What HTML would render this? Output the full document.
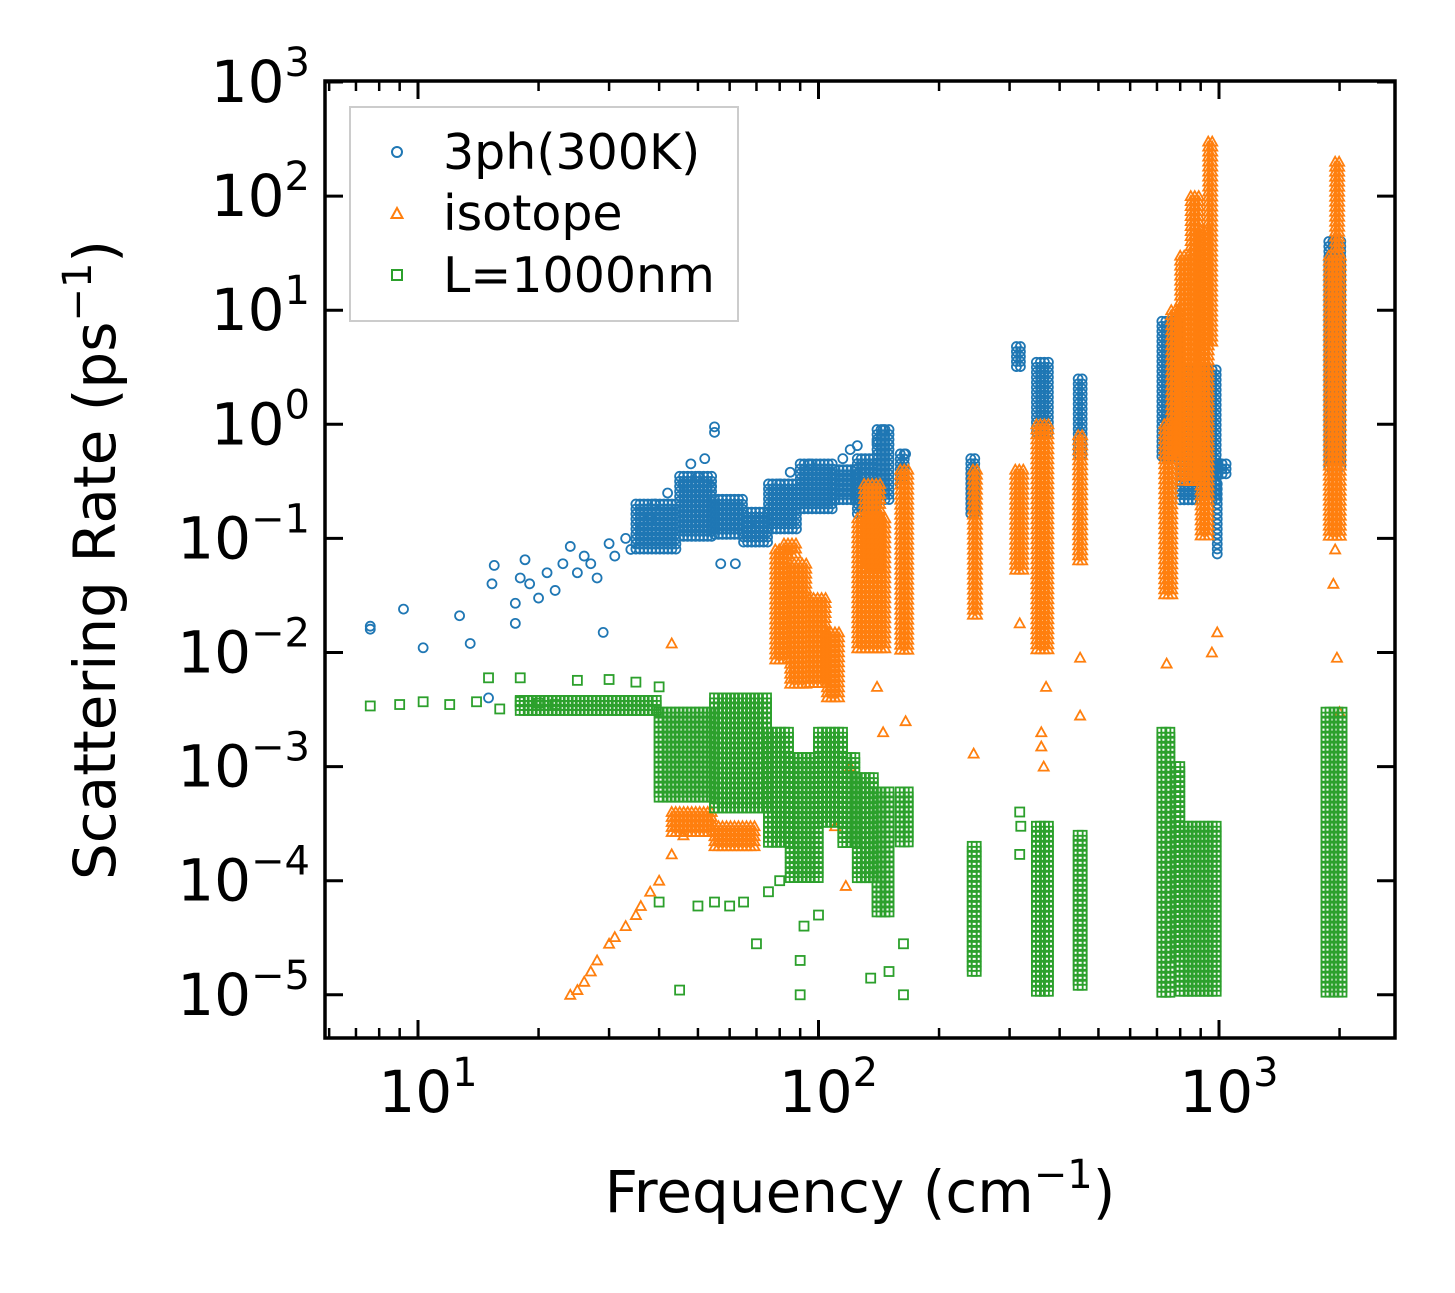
<!DOCTYPE html>
<html><head><meta charset="utf-8"><style>
body{margin:0;background:#fff;}
svg text{font-family:"DejaVu Sans","Liberation Sans",sans-serif;fill:#000;}
</style></head><body>
<svg id="chart" width="1455" height="1288" viewBox="0 0 1455 1288" xmlns="http://www.w3.org/2000/svg">
<rect width="1455" height="1288" fill="#fff"/>
<g id="marks"></g>
<g id="axes"></g>
<g id="legend">
<rect x="350" y="107" width="388" height="214" fill="#fff" fill-opacity="0.8" stroke="#ccc" stroke-width="2"/>
<circle cx="397" cy="152" r="5" fill="none" stroke="#1f77b4" stroke-width="2"/>
<text x="443" y="169" font-size="49">3ph(300K)</text>
<path d="M397,208 L402.5,218 L391.5,218 Z" fill="none" stroke="#ff7f0e" stroke-width="2"/>
<text x="443" y="230" font-size="49">isotope</text>
<rect x="392" y="270" width="10" height="10" fill="none" stroke="#2ca02c" stroke-width="2"/>
<text x="443" y="292" font-size="49">L=1000nm</text>
</g>
<text x="860" y="1212" font-size="58" text-anchor="middle">Frequency (cm<tspan dy="-24" font-size="40">−1</tspan><tspan dy="24">)</tspan></text>
<text transform="translate(115,560) rotate(-90)" font-size="58" text-anchor="middle">Scattering Rate (ps<tspan dy="-24" font-size="40">−1</tspan><tspan dy="24">)</tspan></text>
</svg>
<script>
const X0=325,X1=1395,Y0=81,Y1=1038;
const xDec1=418, xPerDec=400.5;
const yDec3=82, yPerDec=114.1;
function xs(f){return xDec1+(Math.log10(f)-1)*xPerDec;}
function ys(v){return yDec3+(3-Math.log10(v))*yPerDec;}
const NS="http://www.w3.org/2000/svg";

// ---- data ----
const bluePoints=[[7.6,0.016],[7.6,0.017],[9.2,0.024],[10.3,0.011],[12.7,0.021],[13.5,0.012],[15,0.004],[15.3,0.04],[15.5,0.058],[17.5,0.027],[17.5,0.018],[18,0.045],[18.5,0.065],[19,0.04],[20,0.03],[21,0.05],[22,0.035],[23,0.06],[24,0.085],[25,0.05],[26,0.07],[27,0.06],[28,0.045],[29,0.015],[30,0.09],[31,0.07],[33,0.1],[34,0.08],[36,0.12],[38,0.15],[39,0.2],[42,0.25],[44,0.18],[46,0.3],[48,0.45],[50,0.35],[52,0.5],[54,0.28],[55,0.95],[55,0.85],[57,0.06],[62,0.06],[70,0.14],[80,0.3],[85,0.38],[95,0.45],[115,0.5],[120,0.6],[125,0.65],[140,0.7],[145,0.9],[165,0.55]];
const blueBands=[[35,45,0.08,0.2],[45,55,0.1,0.35],[55,65,0.1,0.22],[65,75,0.09,0.17],[75,90,0.12,0.3],[90,110,0.18,0.45],[110,125,0.2,0.4],[125,140,0.15,0.5],[140,150,0.2,0.9],[160,165,0.3,0.55],[240,250,0.15,0.5],[312,325,3,4.8],[350,375,0.8,3.5],[445,460,0.5,2.5],[720,790,0.5,8],[800,1000,0.2,3],[950,1050,0.35,0.45],[990,1005,0.07,0.3],[1880,2050,0.4,40]];
const orangePoints=[[24,1e-5],[25,1.1e-5],[26,1.3e-5],[27,1.6e-5],[28,2e-5],[30,2.8e-5],[31,3.2e-5],[33,4e-5],[35,5e-5],[36,6e-5],[38,8e-5],[40,1e-4],[43,1.7e-4],[46,2.5e-4],[43,0.012],[244,1.3e-3],[318,0.018],[360,2e-3],[360,1.5e-3],[365,1e-3],[370,5e-3],[450,2.8e-3],[450,0.009],[960,0.01],[990,0.015],[740,0.008],[1970,0.009],[2000,0.003],[165,2.5e-3],[145,0.002],[140,0.005],[120,1e-3],[110,3e-4],[117,9e-5],[1930,0.04],[1950,0.08]];
const orangeBands=[[43,55,2.5e-4,4e-4],[55,70,2e-4,3e-4],[78,85,0.008,0.08],[85,95,0.005,0.06],[95,105,0.005,0.03],[105,115,0.004,0.015],[82,88,0.07,0.09],[125,150,0.01,0.15],[130,145,0.05,0.3],[160,170,0.01,0.4],[243,250,0.02,0.4],[310,330,0.05,0.4],[350,380,0.01,1],[445,460,0.06,0.8],[730,780,0.03,1],[760,800,0.5,10],[800,850,0.3,30],[850,900,0.3,100],[900,960,0.1,50],[940,980,5,300],[1880,2050,0.1,30],[1950,2030,30,200]];
const greenPoints=[[7.6,3.4e-3],[9,3.5e-3],[10.3,3.7e-3],[12,3.5e-3],[14,3.7e-3],[15,6e-3],[16,3.2e-3],[18,6e-3],[18,3.7e-3],[20,3.6e-3],[22,3.5e-3],[25,5.7e-3],[30,5.8e-3],[35,5.5e-3],[40,5e-3],[45,1.1e-5],[40,6.5e-5],[50,6e-5],[55,6.5e-5],[60,6e-5],[65,6.5e-5],[70,2.8e-5],[75,8e-5],[80,1e-4],[90,1e-5],[90,2e-5],[92,4e-5],[100,5e-5],[135,1.4e-5],[150,1.6e-5],[163,1e-5],[163,2.8e-5],[318,4e-4],[318,1.7e-4],[320,3e-4]];
const greenBands=[[18,40,3e-3,3.8e-3],[40,55,5e-4,3e-3],[55,75,4e-4,4e-3],[75,85,2e-4,2e-3],[85,100,1e-4,1.2e-3],[100,115,3e-4,2e-3],[115,125,2e-4,1.2e-3],[125,140,1e-4,8e-4],[140,150,5e-5,6e-4],[160,168,2e-4,6e-4],[242,250,1.5e-5,2e-4],[350,380,1e-5,3e-4],[445,460,1.2e-5,2.5e-4],[720,760,1e-5,2e-3],[780,800,2e-5,1e-3],[800,1000,1e-5,3e-4],[1850,2050,1e-5,3e-3]];
const xTickLabels=["1","2","3"];
const xTickValues=[10,100,1000];
const yTickValues=[1e3,1e2,1e1,1e0,1e-1,1e-2,1e-3,1e-4,1e-5];
const yTickLabels=["3","2","1","0","−1","−2","−3","−4","−5"];

const marks=document.getElementById('marks');
function marker(kind,x,y,color,name){
  let el;
  if(kind==='c'){el=document.createElementNS(NS,'circle');el.setAttribute('cx',x);el.setAttribute('cy',y);el.setAttribute('r',4.5);}
  else if(kind==='t'){el=document.createElementNS(NS,'path');el.setAttribute('d',`M${x},${y-5} L${x+5},${y+4} L${x-5},${y+4} Z`);}
  else {el=document.createElementNS(NS,'rect');el.setAttribute('x',x-4.5);el.setAttribute('y',y-4.5);el.setAttribute('width',9);el.setAttribute('height',9);}
  el.setAttribute('fill','none');el.setAttribute('stroke',color);el.setAttribute('stroke-width','1.8');
  
  
  marks.appendChild(el);
}
function series(points,bands,kind,color,name){
  bands.forEach(b=>{
    const xa=xs(b[0]),xb=xs(b[1]),ya=ys(b[3]),yb=ys(b[2]);
    for(let x=xa;x<=xb+0.1;x+=4){
      for(let y=ya;y<=yb+0.1;y+=5){marker(kind,x,y,color,name+'-band-point');}
    }
  });
  points.forEach(p=>marker(kind,xs(p[0]),ys(p[1]),color,name+'-point'));
}
series(bluePoints,blueBands,'c','#1f77b4','3ph');
series(orangePoints,orangeBands,'t','#ff7f0e','isotope');
series(greenPoints,greenBands,'s','#2ca02c','boundary');

const ax=document.getElementById('axes');
function line(x1,y1,x2,y2,w,name){const l=document.createElementNS(NS,'line');l.setAttribute('x1',x1);l.setAttribute('y1',y1);l.setAttribute('x2',x2);l.setAttribute('y2',y2);l.setAttribute('stroke','#000');l.setAttribute('stroke-width',w);


ax.appendChild(l);}
function text(x,y,base,exp,anchor,name){const t=document.createElementNS(NS,'text');t.setAttribute('x',x);t.setAttribute('y',y);t.setAttribute('font-size','58');t.setAttribute('text-anchor',anchor);
t.innerHTML=base+`<tspan dy="-26" font-size="40">${exp}</tspan>`;


ax.appendChild(t);}
const fr=document.createElementNS(NS,'rect');fr.setAttribute('x',X0);fr.setAttribute('y',Y0);fr.setAttribute('width',X1-X0);fr.setAttribute('height',Y1-Y0);fr.setAttribute('fill','none');fr.setAttribute('stroke','#000');fr.setAttribute('stroke-width','3.5');


ax.appendChild(fr);
xTickValues.forEach((v,i)=>{const x=xs(v);line(x,Y1,x,Y1-18,3,'x-major-tick');line(x,Y0,x,Y0+18,3,'x-major-tick-top');
  text(x+10,1112,'10',xTickLabels[i],'middle','x-tick-label');});
for(let d=0;d<4;d++){for(let m=2;m<=9;m++){const v=m*Math.pow(10,d);const x=xs(v);if(x<X0||x>X1)continue;line(x,Y1,x,Y1-10,2.5,'x-minor-tick');line(x,Y0,x,Y0+10,2.5,'x-minor-tick-top');}}
yTickValues.forEach((v,i)=>{const y=ys(v);line(X0,y,X0+18,y,3,'y-major-tick');line(X1,y,X1-18,y,3,'y-major-tick-right');
  text(310,y+20,'10',yTickLabels[i],'end','y-tick-label');});
</script>
</body></html>
